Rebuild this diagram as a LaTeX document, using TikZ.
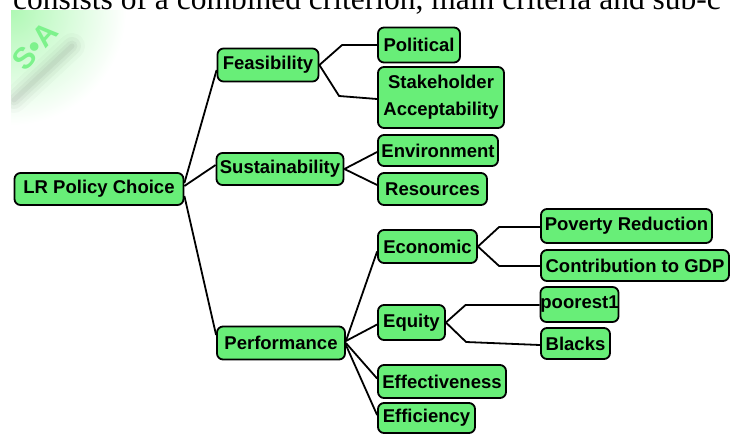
\documentclass[tikz,border=0pt]{standalone}
\usepackage{fontspec}
\setmainfont{Liberation Sans}
\newfontfamily\topserif{Liberation Serif}
\usetikzlibrary{calc}
\definecolor{boxgreen}{RGB}{104,238,120}
\definecolor{wmgreen}{RGB}{125,242,140}
\definecolor{wmlight}{RGB}{175,248,180}
\tikzset{
  crit/.style={draw=black, line width=1.8pt, fill=boxgreen, rounded corners=6pt,
    inner sep=0pt, font=\fontsize{18.5}{27}\selectfont\bfseries, align=center},
  link/.style={draw=black, line width=1.8pt}
}
\begin{document}
\begin{tikzpicture}[x=1pt,y=-1pt]
\clip (0,0) rectangle (730,434);
\fill[white] (0,0) rectangle (730,434);
% watermark
\begin{scope}
  \clip (11,10) rectangle (200,160);
  \shade[inner color=wmlight, outer color=white] (11,10) circle (115);
  \foreach \w/\o in {26/0.02,18/0.03,11/0.035,5/0.04}{
    \draw[black, line width=\w pt, opacity=\o, line cap=round] (14,100) -- (72,46);
  }
\end{scope}
\node[rotate=48, text=wmgreen, font=\fontsize{30}{30}\selectfont\bfseries, inner sep=0pt] (wm) at (35,46) {S•A};
% top text
\node[anchor=base west, inner sep=0pt, font=\topserif\fontsize{31.5}{34}\selectfont] (toptext) at (13,9) {consists of a combined criterion, main criteria and sub-c};
% nodes
\node[crit, minimum width=169pt, minimum height=32pt] (root) at (99,189) {LR Policy Choice};
\node[crit, minimum width=101pt, minimum height=33pt] (feas) at (268,65) {Feasibility};
\node[crit, minimum width=127pt, minimum height=32pt] (sust) at (280,169) {Sustainability};
\node[crit, minimum width=128pt, minimum height=33pt] (perf) at (281,343) {Performance};
\node[crit, minimum width=82pt, minimum height=35pt] (pol) at (419,45) {Political};
\node[crit, minimum width=126pt, minimum height=61pt] (stake) at (441,97.5) {Stakeholder\\Acceptability};
\node[crit, minimum width=120pt, minimum height=31pt] (env) at (438,150.5) {Environment};
\node[crit, minimum width=109pt, minimum height=32pt] (res) at (432.5,189) {Resources};
\node[crit, minimum width=99pt, minimum height=33pt] (econ) at (427.5,246.5) {Economic};
\node[crit, minimum width=171pt, minimum height=34pt] (pov) at (626.5,226) {Poverty Reduction};
\node[crit, minimum width=188pt, minimum height=31pt] (gdp) at (635,265.5) {Contribution to GDP};
\node[crit, minimum width=67pt, minimum height=35pt] (eq) at (411.5,322.5) {Equity};
\node[crit, minimum width=77pt, minimum height=35pt] (poor) at (579.5,304.5) {poorest1};
\node[crit, minimum width=69pt, minimum height=31pt] (black) at (575.5,343.5) {Blacks};
\node[crit, minimum width=128pt, minimum height=33pt] (effect) at (442,381.5) {Effectiveness};
\node[crit, minimum width=97pt, minimum height=30pt] (effic) at (426.5,418) {Efficiency};
% connectors
\draw[link] ([yshift=6pt]root.east) -- ([yshift=-5pt]feas.west);
\draw[link] ([yshift=3pt]root.east) -- ([yshift=4pt]sust.west);
\draw[link] ([yshift=-7pt]root.east) -- ([yshift=8pt]perf.west);
\draw[link] (feas.east) -- ($(pol.west)+(-35,0)$) -- (pol.west);
\draw[link] (feas.east) -- ($(stake.west)+(-38,-1.5)$) -- ([yshift=-1.5pt]stake.west);
\draw[link] (sust.east) -- ([yshift=-1.5pt]env.west);
\draw[link] (sust.east) -- ([yshift=4pt]res.west);
\draw[link] ([yshift=2pt]perf.east) -- ([yshift=-5pt]econ.west);
\draw[link] ([yshift=2pt]perf.east) -- ([yshift=-2pt]eq.west);
\draw[link] ([yshift=0pt]perf.east) -- ([yshift=3pt]effect.west);
\draw[link] ([yshift=-2pt]perf.east) -- ([yshift=3pt]effic.west);
\draw[link] (econ.east) -- ($(pov.west)+(-41,1)$) -- ([yshift=-1pt]pov.west);
\draw[link] (econ.east) -- ($(gdp.west)+(-41,0.5)$) -- ([yshift=-0.5pt]gdp.west);
\draw[link] (eq.east) -- ($(poor.west)+(-74,0.5)$) -- ([yshift=-0.5pt]poor.west);
\draw[link] (eq.east) -- ($(black.west)+(-74,-1.5)$) -- ([yshift=-1.5pt]black.west);
\end{tikzpicture}
\end{document}
